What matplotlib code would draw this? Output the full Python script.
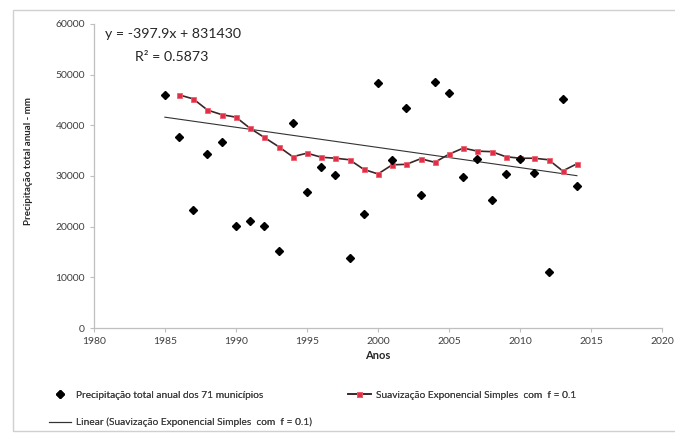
import matplotlib
matplotlib.use("Agg")
import matplotlib.pyplot as plt
from matplotlib.patches import Rectangle
import numpy as np

plt.rcParams['font.family'] = ['Lato', 'DejaVu Sans']

# Annual total precipitation (sum of 71 municipalities), mm
anos = [1985, 1986, 1987, 1988, 1989, 1990, 1991, 1992, 1993, 1994,
        1995, 1996, 1997, 1998, 1999, 2000, 2001, 2002, 2003, 2004,
        2005, 2006, 2007, 2008, 2009, 2010, 2011, 2012, 2013, 2014]
precipitacao = [46000, 37700, 23200, 34300, 36800, 20200, 21100, 20200, 15300, 40400,
                26800, 31800, 30200, 13900, 22600, 48400, 33200, 43500, 26300, 48600,
                46400, 29800, 33300, 25300, 30300, 33400, 30600, 11000, 45100, 28100]

# Simple exponential smoothing (f = 0.1), first value starts in 1986
anos_suav = anos[1:]
suavizacao = [46000, 45200, 43000, 42100, 41600, 39400, 37600, 35800, 33800,
              34500, 33700, 33500, 33200, 31300, 30400, 32200, 32300, 33400, 32700,
              34300, 35500, 34900, 34800, 33800, 33500, 33500, 33200, 31000, 32400]

# Linear trend of the smoothed series
slope = -397.9
intercept = 831430
r2 = 0.5873

fig = plt.figure(figsize=(6.75, 4.34), dpi=100)
ax = fig.add_axes([0.139, 0.244, 0.842, 0.701])

x_trend = np.array([anos[0], anos[-1]])
ln_lin, = ax.plot(x_trend, slope * x_trend + intercept, color='#333333', lw=0.8, zorder=2,
                  label='Linear (Suavização Exponencial Simples  com  f = 0.1)')
ln_suav, = ax.plot(anos_suav, suavizacao, color='#3a2626', lw=1.2, marker='s', ms=3.6,
                   mfc='#e03048', mec='#f06070', mew=0.6, zorder=3,
                   label='Suavização Exponencial Simples  com  f = 0.1')
pts, = ax.plot(anos, precipitacao, ls='none', marker='D', ms=4.5, color='black', zorder=4,
               label='Precipitação total anual dos 71 municípios')

ax.set_xlim(1980, 2020)
ax.set_ylim(0, 60000)
ax.set_xticks(range(1980, 2021, 5))
ax.set_yticks(range(0, 60001, 10000))

for s in ['top', 'right']:
    ax.spines[s].set_visible(False)
for s in ['left', 'bottom']:
    ax.spines[s].set_color('#bfbfbf')
    ax.spines[s].set_linewidth(0.9)
ax.tick_params(axis='both', colors='#bfbfbf', labelcolor='#404040', labelsize=7.5,
               length=3, width=0.8, direction='out')

ax.set_xlabel('Anos', fontsize=8, fontweight='bold', color='#262626', labelpad=3)
ax.set_ylabel('Precipitação total anual - mm', fontsize=7, fontweight='bold',
              color='#262626')
ax.yaxis.set_label_coords(-0.107, 0.55)

ax.text(0.019, 0.985, 'y = %.1fx + %d' % (slope, intercept), transform=ax.transAxes,
        fontsize=10.2, color='#262626', va='top', ha='left')
ax.text(0.073, 0.912, 'R² = %.4f' % r2, transform=ax.transAxes,
        fontsize=10.2, color='#262626', va='top', ha='left')

# legend entries placed one by one below the axes
leg_kw = dict(loc='center left', frameon=False, fontsize=7.3, handlelength=2.2,
              handletextpad=0.5, borderaxespad=0, borderpad=0, labelcolor='#404040')
for h, (x0, y0) in [(pts, (0.072, 0.089)), (ln_lin, (0.072, 0.026)),
                    (ln_suav, (0.516, 0.089))]:
    leg = fig.legend(handles=[h], bbox_to_anchor=(x0, y0), **leg_kw)
    fig.add_artist(leg)

# light outer chart border
fig.patches.append(Rectangle((0.019, 0.007), 1.0, 0.97, transform=fig.transFigure,
                             fill=False, edgecolor='#d0d0d0', lw=1.0))

fig.savefig('out.png', dpi=100)
